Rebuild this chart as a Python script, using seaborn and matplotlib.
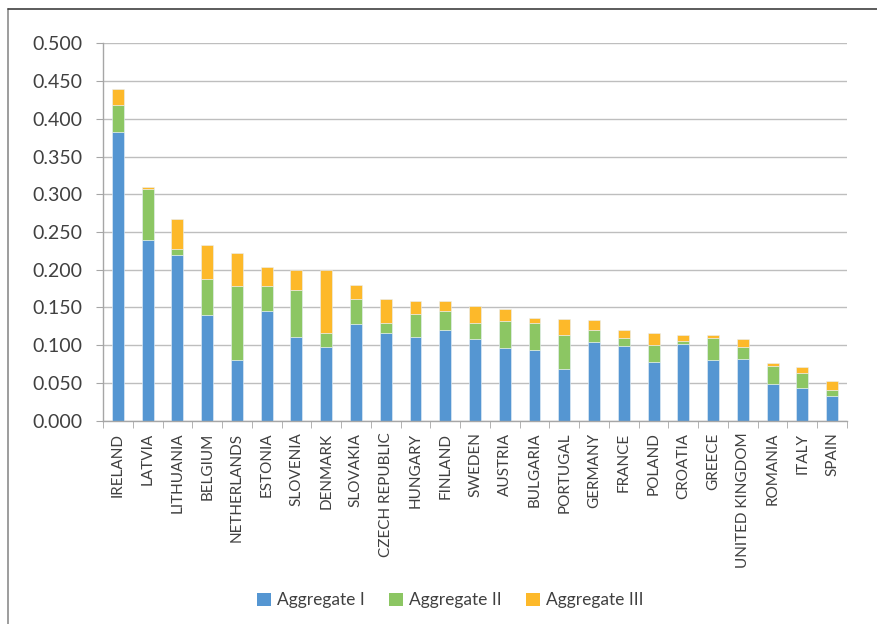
import matplotlib
matplotlib.use("Agg")
import matplotlib.pyplot as plt
import pandas as pd
import seaborn as sns
from matplotlib.patches import Patch
from matplotlib.lines import Line2D

countries = ["IRELAND", "LATVIA", "LITHUANIA", "BELGIUM", "NETHERLANDS", "ESTONIA",
             "SLOVENIA", "DENMARK", "SLOVAKIA", "CZECH REPUBLIC", "HUNGARY", "FINLAND",
             "SWEDEN", "AUSTRIA", "BULGARIA", "PORTUGAL", "GERMANY", "FRANCE", "POLAND",
             "CROATIA", "GREECE", "UNITED KINGDOM", "ROMANIA", "ITALY", "SPAIN"]
agg1 = [0.382, 0.240, 0.219, 0.140, 0.081, 0.145, 0.111, 0.097, 0.128, 0.116, 0.111,
        0.120, 0.108, 0.096, 0.094, 0.068, 0.104, 0.099, 0.078, 0.101, 0.081, 0.082,
        0.049, 0.043, 0.033]
agg2 = [0.036, 0.067, 0.008, 0.048, 0.098, 0.033, 0.062, 0.019, 0.033, 0.013, 0.031,
        0.025, 0.022, 0.036, 0.035, 0.045, 0.016, 0.011, 0.022, 0.005, 0.028, 0.016,
        0.024, 0.020, 0.008]
agg3 = [0.022, 0.002, 0.040, 0.045, 0.043, 0.026, 0.027, 0.083, 0.019, 0.032, 0.016,
        0.013, 0.022, 0.016, 0.007, 0.022, 0.013, 0.010, 0.016, 0.007, 0.004, 0.010,
        0.004, 0.008, 0.012]
series = ["Aggregate I", "Aggregate II", "Aggregate III"]
colors = ["#5596D2", "#8CC663", "#FDB92A"]

df = pd.DataFrame({"country": countries, "a1": agg1, "a2": agg2, "a3": agg3})
df["b2"] = df.a1
df["b3"] = df.a1 + df.a2

sns.set_style("white")
plt.rcParams["font.family"] = ["Lato", "DejaVu Sans"]
text_col = "#404040"

fig = plt.figure(figsize=(8.78, 6.24), dpi=100)
ax = fig.add_axes([0.1173, 0.3258, 0.8474, 0.6048])

for col, bot, c in [("a1", None, colors[0]), ("a2", "b2", colors[1]), ("a3", "b3", colors[2])]:
    kw = {} if bot is None else {"bottom": df[bot]}
    sns.barplot(data=df, x="country", y=col, color=c, width=0.4, ax=ax,
                saturation=1, edgecolor="#E8F0F8", linewidth=0.4, **kw)

ax.set_ylim(0, 0.5)
ax.set_xlim(-0.5, len(countries) - 0.5)
ax.set_yticks([i * 0.05 for i in range(11)])
ax.set_yticklabels([f"{i * 0.05:.3f}" for i in range(11)])
ax.set_xlabel("")
ax.set_ylabel("")
ax.yaxis.grid(True, color="#BEBEBE", linewidth=1)
ax.set_axisbelow(True)
for s in ["top", "right"]:
    ax.spines[s].set_visible(False)
for s in ["left", "bottom"]:
    ax.spines[s].set_color("#A6A6A6")
    ax.spines[s].set_linewidth(1)

ax.tick_params(axis="y", left=True, length=5, color="#A6A6A6", pad=10,
               labelsize=14, labelcolor=text_col)
ax.tick_params(axis="x", bottom=False, labelsize=11, labelcolor=text_col,
               pad=5, rotation=90)
# tick marks between categories
ax.set_xticks([i - 0.5 for i in range(len(countries) + 1)], minor=True)
ax.tick_params(axis="x", which="minor", bottom=True, length=5, color="#A6A6A6")

handles = [Patch(facecolor=c, edgecolor="none", label=l) for c, l in zip(colors, series)]
leg = fig.legend(handles=handles, loc="center", bbox_to_anchor=(0.513, 0.038),
                 ncol=3, frameon=False, fontsize=12.5, handlelength=0.8,
                 handleheight=0.8, handletextpad=0.35, columnspacing=1.4)
for t in leg.get_texts():
    t.set_color(text_col)

# chart border (partially cropped)
fig.add_artist(Line2D([8 / 878, 8 / 878], [0, 1 - 9 / 624], transform=fig.transFigure,
                      color="#8C8C8C", linewidth=1.2))
fig.add_artist(Line2D([8 / 878, 1], [1 - 9 / 624, 1 - 9 / 624], transform=fig.transFigure,
                      color="#404040", linewidth=1.2))

fig.savefig("out.png", dpi=100)
